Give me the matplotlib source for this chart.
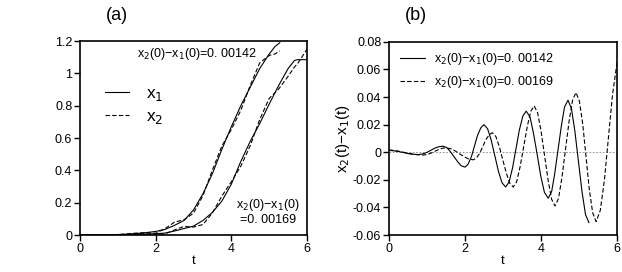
import matplotlib.pyplot as plt

plt.rcParams["font.family"] = ["Liberation Sans", "DejaVu Sans"]
plt.rcParams["axes.unicode_minus"] = False

# (a) x1, x2 for x2(0)-x1(0)=0.00142
t_a1 = [0, 0.25, 0.5, 0.75, 1.0, 1.25, 1.5, 1.75, 2.0, 2.25, 2.5, 2.75, 3.0,
        3.25, 3.5, 3.75, 4.0, 4.25, 4.5, 4.75, 5.0, 5.15, 5.28]
x1_a1 = [0, 0, 0.001, 0.002, 0.003, 0.005, 0.009, 0.015, 0.022, 0.035, 0.06,
         0.09, 0.155, 0.255, 0.38, 0.53, 0.67, 0.80, 0.915, 1.03, 1.12, 1.165, 1.19]
x2_a1 = [0.0014, 0.0012, 0.0012, 0.0004, 0.0024, 0.0075, 0.012, 0.014, 0.011,
         0.040, 0.080, 0.094, 0.135, 0.244, 0.402, 0.551, 0.653, 0.771, 0.926,
         1.065, 1.111, 1.12, 1.139]

# (a) x1, x2 for x2(0)-x1(0)=0.00169
t_a2 = [0, 0.5, 1.0, 1.5, 2.0, 2.25, 2.5, 2.75, 3.0, 3.25, 3.5, 3.75, 4.0,
        4.25, 4.5, 4.75, 5.0, 5.25, 5.5, 5.67, 5.75, 6.0]
x1_a2 = [0, 0.0005, 0.002, 0.004, 0.008, 0.012, 0.025, 0.04, 0.055, 0.09, 0.14,
         0.21, 0.315, 0.455, 0.58, 0.69, 0.81, 0.925, 1.03, 1.08, 1.085, 1.085]
x2_a2 = [0.0017, 0.0005, 0.0003, 0.0072, 0.0043, 0.0067, 0.0315, 0.053, 0.049,
         0.065, 0.137, 0.241, 0.33, 0.425, 0.553, 0.715, 0.845, 0.903, 0.982,
         1.04, 1.06, 1.15]

# (b) x2(t)-x1(t)
t_b1 = [0.0, 0.13, 0.26, 0.39, 0.51, 0.64, 0.77, 0.88, 0.99, 1.10, 1.20, 1.31,
        1.42, 1.52, 1.61, 1.71, 1.81, 1.90, 2.00, 2.08, 2.17, 2.25, 2.33, 2.42,
        2.50, 2.595, 2.69, 2.785, 2.88, 2.975, 3.07, 3.16, 3.25, 3.34, 3.43,
        3.52, 3.61, 3.71, 3.80, 3.90, 3.995, 4.09, 4.19, 4.28, 4.36, 4.45, 4.54,
        4.62, 4.71, 4.80, 4.89, 4.985, 5.08, 5.17, 5.26]
d_b1 = [0.0014, 0.0010, 0.0005, -0.0003, -0.0010, -0.0015, -0.0017, -0.0013,
        -0.0002, 0.0014, 0.0029, 0.0040, 0.0044, 0.0034, 0.0006, -0.0032,
        -0.0070, -0.0098, -0.0108, -0.0087, -0.0031, 0.0046, 0.0123, 0.0179,
        0.0200, 0.0170, 0.0087, -0.0026, -0.0139, -0.0222, -0.0252, -0.0215,
        -0.0115, 0.0023, 0.0161, 0.0261, 0.0298, 0.0256, 0.0140, -0.0018,
        -0.0175, -0.0291, -0.0333, -0.0285, -0.0156, 0.0022, 0.0200, 0.0329,
        0.0377, 0.0318, 0.0155, -0.0067, -0.0288, -0.0451, -0.0510]
t_b2 = [0.0, 0.15, 0.30, 0.45, 0.60, 0.75, 0.90, 1.00, 1.10, 1.20, 1.30, 1.40,
        1.50, 1.62, 1.74, 1.86, 1.98, 2.10, 2.22, 2.30, 2.39, 2.47, 2.55, 2.64,
        2.72, 2.81, 2.90, 2.995, 3.09, 3.18, 3.27, 3.36, 3.45, 3.545, 3.64, 3.73,
        3.82, 3.91, 4.00, 4.095, 4.19, 4.28, 4.37, 4.46, 4.55, 4.645, 4.74, 4.83,
        4.92, 5.01, 5.10, 5.185, 5.27, 5.36, 5.45, 5.56, 5.67, 5.775, 5.88, 6.00]
d_b2 = [0.0017, 0.0013, 0.0005, -0.0004, -0.0012, -0.0018, -0.0020, -0.0017,
        -0.0007, 0.0006, 0.0019, 0.0029, 0.0032, 0.0026, 0.0010, -0.0012,
        -0.0033, -0.0049, -0.0055, -0.0042, -0.0006, 0.0043, 0.0092, 0.0128,
        0.0141, 0.0115, 0.0043, -0.0056, -0.0154, -0.0226, -0.0252, -0.0213,
        -0.0105, 0.0042, 0.0189, 0.0297, 0.0336, 0.0287, 0.0155, -0.0027,
        -0.0209, -0.0341, -0.0390, -0.0335, -0.0184, 0.0022, 0.0227, 0.0378,
        0.0433, 0.0370, 0.0199, -0.0035, -0.0269, -0.0440, -0.0503, -0.0421,
        -0.0197, 0.0109, 0.0414, 0.0650]

xticks = [0, 2, 4, 6]
yticks_a = [0, 0.2, 0.4, 0.6, 0.8, 1.0, 1.2]
ylabels_a = ["0", "0.2", "0.4", "0.6", "0.8", "1", "1.2"]
yticks_b = [-0.06, -0.04, -0.02, 0, 0.02, 0.04, 0.06, 0.08]
ylabels_b = ["-0.06", "-0.04", "-0.02", "0", "0.02", "0.04", "0.06", "0.08"]

dash = (0, (4, 2))
lw = 0.8

fig = plt.figure(figsize=(6.22, 2.72), dpi=100)


def style(ax):
    for s in ax.spines.values():
        s.set_linewidth(1.2)
    ax.tick_params(direction="out", length=4, width=1, labelsize=9, pad=1.5)
    ax.set_xlim(0, 6)
    ax.set_xticks(xticks)
    ax.set_xlabel("t", fontsize=9.5, labelpad=0)


ax1 = fig.add_axes([0.1286, 0.136, 0.365, 0.713])
ax1.plot(t_a1, x1_a1, color="black", lw=lw, label="x$_1$")
ax1.plot(t_a1, x2_a1, color="black", lw=lw, ls=dash, label="x$_2$")
ax1.plot(t_a2, x1_a2, color="black", lw=lw)
ax1.plot(t_a2, x2_a2, color="black", lw=lw, ls=dash)
style(ax1)
ax1.set_ylim(0, 1.2)
ax1.set_yticks(yticks_a)
ax1.set_yticklabels(ylabels_a)
ax1.text(1.5, 1.12, "x$_2$(0)−x$_1$(0)=0. 00142", fontsize=9, va="center")
ax1.text(4.97, 0.186, "x$_2$(0)−x$_1$(0)", fontsize=9, ha="center", va="center")
ax1.text(4.97, 0.093, "=0. 00169", fontsize=9, ha="center", va="center")
ax1.legend(loc="upper left", bbox_to_anchor=(0.04, 0.85), frameon=False,
           fontsize=12.5, handlelength=1.4, handletextpad=1.0, labelspacing=0.35)

ax2 = fig.add_axes([0.6254, 0.136, 0.3666, 0.71])
ax2.axhline(0, color="gray", lw=0.6, ls=(0, (2, 2)))
ax2.plot(t_b1, d_b1, color="black", lw=lw, label="x$_2$(0)−x$_1$(0)=0. 00142")
ax2.plot(t_b2, d_b2, color="black", lw=lw, ls=dash,
         label="x$_2$(0)−x$_1$(0)=0. 00169")
style(ax2)
ax2.set_ylim(-0.06, 0.08)
ax2.set_yticks(yticks_b)
ax2.set_yticklabels(ylabels_b)
ax2.set_ylabel("x$_2$(t)−x$_1$(t)", fontsize=11, labelpad=1)
ax2.legend(loc="upper left", bbox_to_anchor=(0.0, 1.01), frameon=False,
           fontsize=9, handlelength=2.0, handletextpad=0.7, labelspacing=0.55)

fig.text(117 / 622, 1 - 15 / 272, "(a)", fontsize=13, ha="center", va="center")
fig.text(416 / 622, 1 - 15 / 272, "(b)", fontsize=13, ha="center", va="center")

fig.savefig("out.png", dpi=100)
